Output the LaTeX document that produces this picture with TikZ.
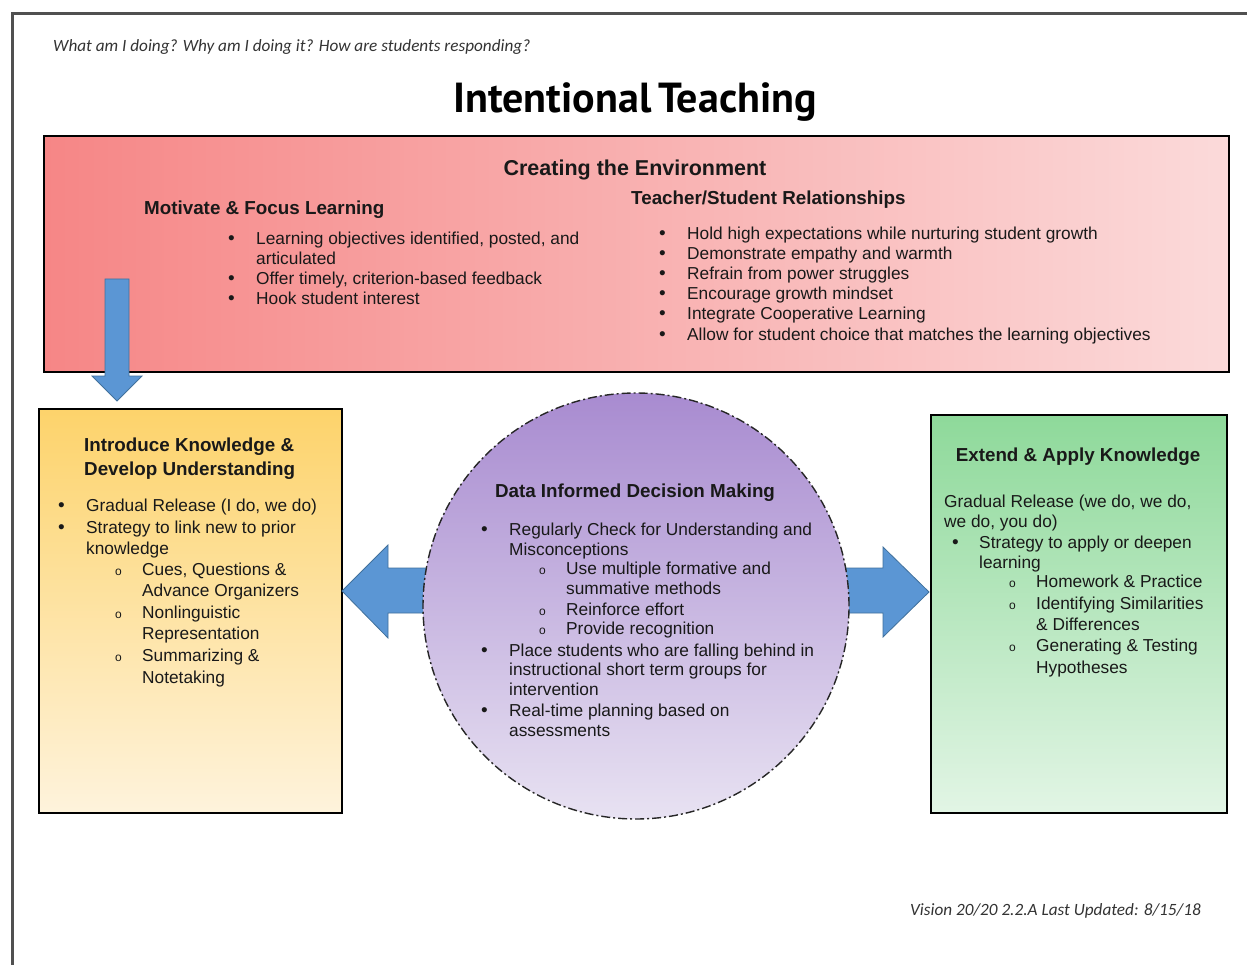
\documentclass[tikz,border=0pt]{standalone}
\usepackage{fontspec}
\setmainfont{Liberation Sans}
\newfontfamily\notefont{Carlito}
\newfontfamily\headfont{PT Sans}
\usetikzlibrary{shapes.geometric}

\definecolor{framegray}{RGB}{80,80,80}
\definecolor{envleft}{RGB}{246,134,134}
\definecolor{envright}{RGB}{251,218,218}
\definecolor{introtop}{RGB}{253,211,107}
\definecolor{introbot}{RGB}{254,243,220}
\definecolor{datatop}{RGB}{168,139,208}
\definecolor{databot}{RGB}{232,226,242}
\definecolor{extendtop}{RGB}{142,217,154}
\definecolor{extendbot}{RGB}{226,245,229}
\definecolor{arrowblue}{RGB}{91,150,212}
\definecolor{arrowedge}{RGB}{65,113,156}
\definecolor{textdark}{RGB}{25,25,25}

\tikzset{
  panel/.style={draw=black, line width=1.6pt},
  blockarrow/.style={fill=arrowblue, draw=arrowedge, line width=0.8pt},
  body/.style={anchor=base west, inner sep=0pt, text=textdark, font=\fontsize{17.3}{20}\selectfont},
  subhead/.style={anchor=base west, inner sep=0pt, text=textdark, font=\fontsize{18.8}{22}\selectfont\bfseries},
  centerhead/.style={anchor=base, inner sep=0pt, text=textdark, font=\fontsize{18.8}{22}\selectfont\bfseries},
  dot/.style={anchor=base west, inner sep=0pt, text=textdark, font=\fontsize{19}{20}\selectfont},
  ring/.style={anchor=base west, inner sep=0pt, text=textdark, font=\fontsize{12}{13}\selectfont},
  note/.style={anchor=base west, inner sep=0pt, text=black!80, font=\fontsize{17.2}{20}\notefont\itshape},
}

\begin{document}
\begin{tikzpicture}[x=1pt,y=-1pt]
\useasboundingbox (0,0) rectangle (1247,965);
\fill[white] (0,0) rectangle (1247,965);

% page frame
\draw[framegray, line width=3pt] (12,965) -- (12,14) -- (1247,14);

% heading
\node[note] (question) at (53,52) {What am I doing? Why am I doing it? How are students responding?};
\node[anchor=base, inner sep=0pt, font=\fontsize{42}{46}\headfont\bfseries] (title) at (635,113) {Intentional\,Teaching};

% environment panel
\node[panel, left color=envleft, right color=envright, minimum width=1185pt, minimum height=236pt, anchor=north west] (env) at (43,135) {};
\node[anchor=base, inner sep=0pt, text=textdark, font=\fontsize{21.5}{24}\selectfont\bfseries] (envtitle) at (635,176) {Creating the Environment};
\node[subhead] (motivate) at (144,215) {Motivate \& Focus Learning};
\node[subhead] (relate) at (631,205) {Teacher/Student Relationships};

\foreach \y [count=\i] in {245,285,305}
  \node[dot] (mb\i) at (228,\y) {•};
\foreach \y/\t [count=\i] in {245/{Learning objectives identified, posted, and}, 265/{articulated}, 285/{Offer timely, criterion-based feedback}, 305/{Hook student interest}}
  \node[body] (m\i) at (256,\y) {\t};

\foreach \y/\t [count=\i] in {240/{Hold high expectations while nurturing student growth}, 260/{Demonstrate empathy and warmth}, 280/{Refrain from power struggles}, 300/{Encourage growth mindset}, 320/{Integrate Cooperative Learning}, 341/{Allow for student choice that matches the learning objectives}}
{
  \node[dot] (rb\i) at (659,\y) {•};
  \node[body] (r\i) at (687,\y) {\t};
}

% arrow from the environment into the first phase
\draw[blockarrow] (105,279) -- (129,279) -- (129,376) -- (142,376) -- (117,401) -- (92,376) -- (105,376) -- cycle;

% introduce panel
\node[panel, top color=introtop, bottom color=introbot, minimum width=303pt, minimum height=404pt, anchor=north west] (intro) at (38,408) {};
\node[subhead] (introA) at (84,451) {Introduce Knowledge \&};
\node[subhead] (introB) at (84,475) {Develop Understanding};
\node[dot] (ib1) at (58,511) {•};
\node[dot] (ib2) at (58,533) {•};
\foreach \y/\t [count=\i] in {511/{Gradual Release (I do, we do)}, 533/{Strategy to link new to prior}, 554/{knowledge}}
  \node[body] (i\i) at (86,\y) {\t};
\node[ring] (io1) at (115,575) {o};
\node[ring] (io2) at (115,618) {o};
\node[ring] (io3) at (115,661) {o};
\foreach \y/\t [count=\i] in {575/{Cues, Questions \&}, 596/{Advance Organizers}, 618/{Nonlinguistic}, 639/{Representation}, 661/{Summarizing \&}, 683/{Notetaking}}
  \node[body] (is\i) at (142,\y) {\t};

% side arrows, partly covered by the data circle
\draw[blockarrow] (342,591) -- (388,545) -- (388,568) -- (460,568) -- (460,613) -- (388,613) -- (388,638) -- cycle;
\draw[blockarrow] (929,592) -- (883,547) -- (883,568) -- (810,568) -- (810,613) -- (883,613) -- (883,637) -- cycle;

% data circle
\node[circle, draw=black!85, line width=1.4pt, dash pattern=on 9pt off 3pt on 2pt off 3pt, top color=datatop, bottom color=databot, minimum size=426pt, inner sep=0pt] (data) at (636,606) {};
\node[centerhead] (datatitle) at (635,497) {Data Informed Decision Making};
\node[dot] (db1) at (481,535) {•};
\node[dot] (db2) at (481,656) {•};
\node[dot] (db3) at (481,716) {•};
\foreach \y/\t [count=\i] in {535/{Regularly Check for Understanding and}, 555/{Misconceptions}, 656/{Place students who are falling behind in}, 675/{instructional short term groups for}, 695/{intervention}, 716/{Real-time planning based on}, 736/{assessments}}
  \node[body] (d\i) at (509,\y) {\t};
\node[ring] (do1) at (539,574) {o};
\node[ring] (do2) at (539,615) {o};
\node[ring] (do3) at (539,634) {o};
\foreach \y/\t [count=\i] in {574/{Use multiple formative and}, 594/{summative methods}, 615/{Reinforce effort}, 634/{Provide recognition}}
  \node[body] (ds\i) at (566,\y) {\t};

% extend panel
\node[panel, top color=extendtop, bottom color=extendbot, minimum width=296pt, minimum height=398pt, anchor=north west] (extend) at (930,414) {};
\node[centerhead] (extitle) at (1078,461) {Extend \& Apply Knowledge};
\node[body] (e1) at (944,507) {Gradual Release (we do, we do,};
\node[body] (e2) at (944,527) {we do, you do)};
\node[dot] (eb1) at (952,548) {•};
\node[body] (e3) at (979,548) {Strategy to apply or deepen};
\node[body] (e4) at (979,568) {learning};
\node[ring] (eo1) at (1009,587) {o};
\node[ring] (eo2) at (1009,609) {o};
\node[ring] (eo3) at (1009,651) {o};
\foreach \y/\t [count=\i] in {587/{Homework \& Practice}, 609/{Identifying Similarities}, 630/{\& Differences}, 651/{Generating \& Testing}, 673/{Hypotheses}}
  \node[body] (es\i) at (1036,\y) {\t};

% footer
\node[note] (footer) at (910,915) {Vision 20/20 2.2.A Last Updated: 8/15/18};
\end{tikzpicture}
\end{document}
